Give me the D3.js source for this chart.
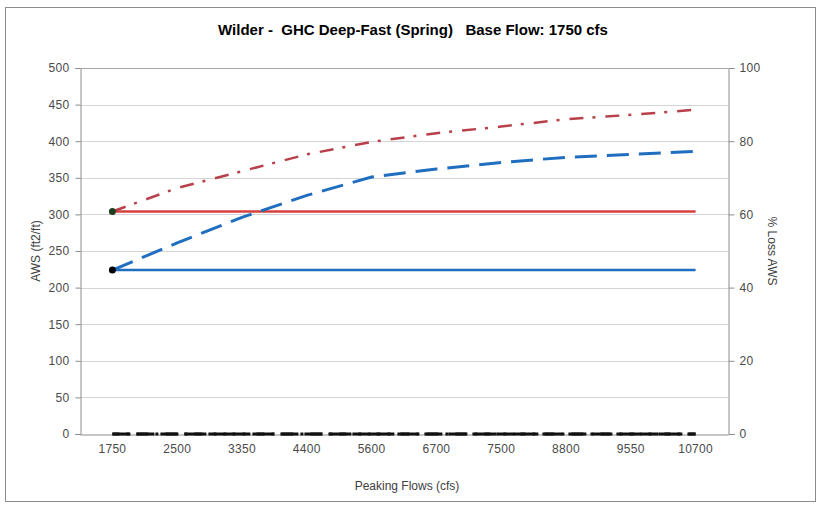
<!DOCTYPE html>
<html><head><meta charset="utf-8">
<script src="https://cdn.jsdelivr.net/npm/d3@7"></script>
<style>
body{margin:0;background:#fff;}
svg{font-family:Arial, "Liberation Sans", sans-serif;}
</style></head>
<body><svg id="c" width="820" height="505"></svg>
<script>
const categories = ["1750","2500","3350","4400","5600","6700","7500","8800","9550","10700"];
const baseAwsRed  = [304,304,304,304,304,304,304,304,304,304];
const baseAwsBlue = [224,224,224,224,224,224,224,224,224,224];
const peakAwsRed  = [304,336,359,382,399,411,420,430,436,443];
const peakAwsBlue = [224,261,296,326,351,362,371,378,382,386];
const lossA = [0,0,0,0,0,0,0,0,0,0];
const lossB = [0,0,0,0,0,0,0,0,0,0];
const leftTicks = [0,50,100,150,200,250,300,350,400,450,500];
const rightTicks = [0,20,40,60,80,100];

const svg = d3.select("#c");
const L=80, R=728, T=68, B=434;

svg.append("rect").attr("x",5.5).attr("y",7.5).attr("width",810).attr("height",494)
  .attr("fill","#fff").attr("stroke","#8c8c8c").attr("stroke-width",1);

const x = d3.scaleBand().domain(categories).range([L,R]);
const y = d3.scaleLinear().domain([0,500]).range([B,T]);
const y2 = d3.scaleLinear().domain([0,100]).range([B,T]);

// gridlines
svg.append("g").selectAll("line").data(leftTicks.filter(d=>d>0)).join("line")
  .attr("x1",L).attr("x2",R).attr("y1",d=>Math.round(y(d))+0.5).attr("y2",d=>Math.round(y(d))+0.5)
  .attr("stroke","#d4d4d4").attr("stroke-width",1);

// axes
const gl = svg.append("g").attr("transform",`translate(${L+0.5},0)`)
  .call(d3.axisLeft(y).tickValues(leftTicks).tickSize(5).tickPadding(6));
const gr = svg.append("g").attr("transform",`translate(${R+0.5},0)`)
  .call(d3.axisRight(y2).tickValues(rightTicks).tickSize(6).tickPadding(5));
const gb = svg.append("g").attr("transform",`translate(0,${B+0.5})`)
  .call(d3.axisBottom(x).tickSize(0).tickPadding(10));
[gl,gr,gb].forEach(g=>{
  g.selectAll("text").attr("font-size",12).attr("letter-spacing","0.3px").attr("fill","#4a4a4a").attr("font-family","Arial, 'Liberation Sans', sans-serif");
  g.selectAll("line").attr("stroke","#8c8c8c");
  g.select(".domain").attr("stroke","#8c8c8c");
});
svg.append("line").attr("x1",L).attr("x2",R).attr("y1",T+0.5).attr("y2",T+0.5).attr("stroke","#a6a6a6");

const cx = d => x(d)+x.bandwidth()/2;
const line = (arr, sc) => d3.line().x((d,i)=>cx(categories[i])).y(d=>sc(d))(arr);

svg.append("path").attr("d",line(baseAwsRed,y)).attr("fill","none").attr("stroke","#d6403c").attr("stroke-width",2.5);
svg.append("path").attr("d",line(baseAwsBlue,y)).attr("fill","none").attr("stroke","#1f6ec0").attr("stroke-width",2.5);
svg.append("path").attr("d",line(peakAwsRed,y)).attr("fill","none").attr("stroke","#b8404a").attr("stroke-width",2.5)
  .attr("stroke-dasharray","14,9,3,10");
svg.append("path").attr("d",line(peakAwsBlue,y)).attr("fill","none").attr("stroke","#1f6ec0").attr("stroke-width",3)
  .attr("stroke-dasharray","22,10");
svg.append("path").attr("d",line(lossA,y2)).attr("fill","none").attr("stroke","#111").attr("stroke-width",3)
  .attr("stroke-dasharray","18,6");
svg.append("path").attr("d",line(lossB,y2)).attr("fill","none").attr("stroke","#111").attr("stroke-width",3)
  .attr("stroke-dasharray","12,7,3,7").attr("stroke-dashoffset",5);

// markers at first point
svg.append("circle").attr("cx",cx(categories[0])).attr("cy",y(peakAwsRed[0])).attr("r",3.5).attr("fill","#1f3d1f");
svg.append("circle").attr("cx",cx(categories[0])).attr("cy",y(peakAwsBlue[0])).attr("r",3.5).attr("fill","#000");

// titles
svg.append("text").attr("x",413).attr("y",35).attr("text-anchor","middle").attr("font-size",15).attr("font-weight","bold")
  .attr("fill","#000").attr("xml:space","preserve").text("Wilder -  GHC Deep-Fast (Spring)   Base Flow: 1750 cfs");
svg.append("text").attr("x",407).attr("y",490).attr("text-anchor","middle").attr("font-size",12).attr("fill","#404040")
  .text("Peaking Flows (cfs)");
svg.append("text").attr("transform","translate(40,251) rotate(-90)").attr("text-anchor","middle").attr("font-size",12)
  .attr("fill","#404040").text("AWS (ft2/ft)");
svg.append("text").attr("transform","translate(768,251) rotate(90)").attr("text-anchor","middle").attr("font-size",12)
  .attr("fill","#404040").text("% Loss AWS");
</script></body></html>
